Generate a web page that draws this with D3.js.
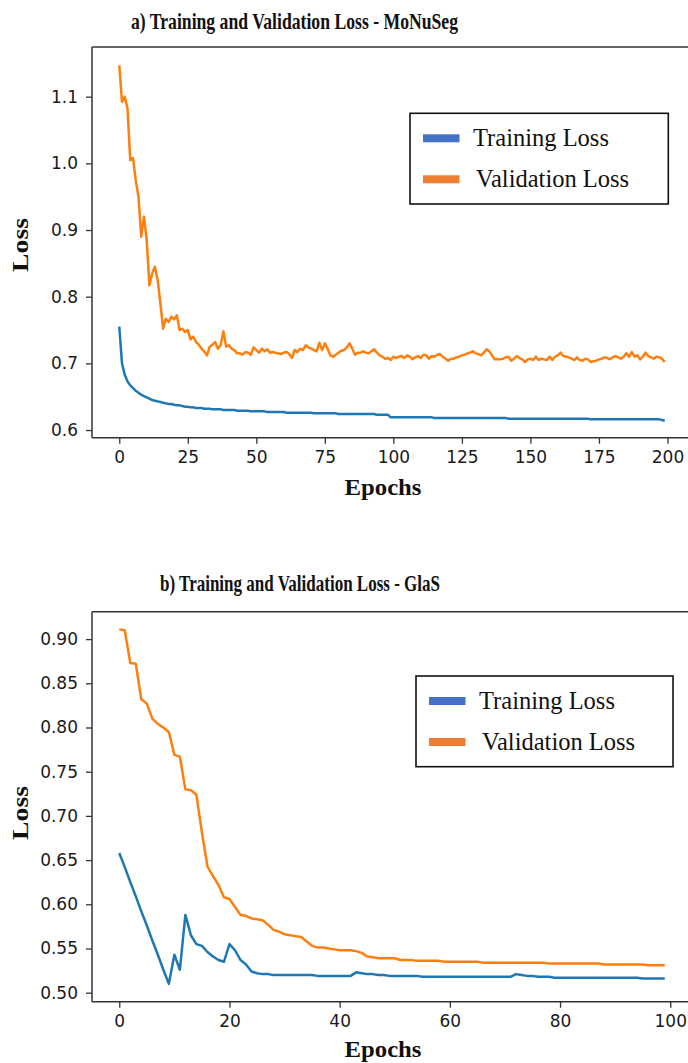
<!DOCTYPE html>
<html>
<head>
<meta charset="utf-8">
<script src="https://cdn.jsdelivr.net/npm/d3@7"></script>
<style>
  html, body { margin: 0; padding: 0; background: #fff; }
  svg { display: block; }
</style>
</head>
<body>
<svg id="chart" width="688" height="1063"></svg>
<script>
// ---------------- DATA ----------------
const seriesNames = ["Training Loss", "Validation Loss"];

// Panel a) MoNuSeg, 200 epochs
const monusegTitle = "a) Training and Validation Loss - MoNuSeg";
const monusegTrain = [
  0.755, 0.700, 0.683, 0.673, 0.667, 0.663, 0.659, 0.656, 0.653, 0.651,
  0.649, 0.647, 0.645, 0.644, 0.643, 0.642, 0.641, 0.640, 0.639, 0.639,
  0.638, 0.637, 0.637, 0.636, 0.635, 0.635, 0.634, 0.634, 0.633, 0.633,
  0.633, 0.632, 0.632, 0.632, 0.631, 0.631, 0.631, 0.631, 0.630, 0.630,
  0.630, 0.630, 0.630, 0.629, 0.629, 0.629, 0.629, 0.629, 0.628, 0.628,
  0.628, 0.628, 0.628, 0.628, 0.627, 0.627, 0.627, 0.627, 0.627, 0.627,
  0.627, 0.626, 0.626, 0.626, 0.626, 0.626, 0.626, 0.626, 0.626, 0.626,
  0.626, 0.625, 0.625, 0.625, 0.625, 0.625, 0.625, 0.625, 0.625, 0.625,
  0.624, 0.624, 0.624, 0.624, 0.624, 0.624, 0.624, 0.624, 0.624, 0.624,
  0.624, 0.624, 0.624, 0.624, 0.623, 0.623, 0.623, 0.623, 0.623, 0.619,
  0.619, 0.619, 0.619, 0.619, 0.619, 0.619, 0.619, 0.619, 0.619, 0.619,
  0.619, 0.619, 0.619, 0.619, 0.619, 0.618, 0.618, 0.618, 0.618, 0.618,
  0.618, 0.618, 0.618, 0.618, 0.618, 0.618, 0.618, 0.618, 0.618, 0.618,
  0.618, 0.618, 0.618, 0.618, 0.618, 0.618, 0.618, 0.618, 0.618, 0.618,
  0.618, 0.618, 0.617, 0.617, 0.617, 0.617, 0.617, 0.617, 0.617, 0.617,
  0.617, 0.617, 0.617, 0.617, 0.617, 0.617, 0.617, 0.617, 0.617, 0.617,
  0.617, 0.617, 0.617, 0.617, 0.617, 0.617, 0.617, 0.617, 0.617, 0.617,
  0.617, 0.617, 0.616, 0.616, 0.616, 0.616, 0.616, 0.616, 0.616, 0.616,
  0.616, 0.616, 0.616, 0.616, 0.616, 0.616, 0.616, 0.616, 0.616, 0.616,
  0.616, 0.616, 0.616, 0.616, 0.616, 0.616, 0.616, 0.616, 0.615, 0.614
];
const monusegVal = [
  1.147, 1.092, 1.100, 1.083, 1.005, 1.008, 0.975, 0.950, 0.890, 0.920,
  0.885, 0.817, 0.835, 0.845, 0.825, 0.790, 0.752, 0.767, 0.762, 0.770,
  0.766, 0.772, 0.750, 0.752, 0.747, 0.750, 0.736, 0.740, 0.732, 0.728,
  0.722, 0.718, 0.712, 0.725, 0.728, 0.732, 0.722, 0.728, 0.748, 0.725,
  0.727, 0.722, 0.720, 0.715, 0.715, 0.713, 0.717, 0.716, 0.713, 0.724,
  0.720, 0.716, 0.722, 0.718, 0.721, 0.716, 0.717, 0.716, 0.715, 0.714,
  0.716, 0.717, 0.714, 0.708, 0.720, 0.717, 0.722, 0.720, 0.727, 0.724,
  0.722, 0.720, 0.718, 0.731, 0.720, 0.730, 0.722, 0.712, 0.710, 0.713,
  0.716, 0.719, 0.720, 0.724, 0.730, 0.722, 0.713, 0.716, 0.716, 0.718,
  0.716, 0.715, 0.718, 0.721, 0.716, 0.712, 0.710, 0.707, 0.708, 0.705,
  0.710, 0.708, 0.710, 0.711, 0.708, 0.712, 0.710, 0.706, 0.709, 0.711,
  0.708, 0.713, 0.712, 0.707, 0.711, 0.710, 0.713, 0.714, 0.710, 0.707,
  0.704, 0.707, 0.707, 0.709, 0.710, 0.712, 0.713, 0.715, 0.716, 0.718,
  0.715, 0.714, 0.712, 0.716, 0.721, 0.718, 0.712, 0.706, 0.706, 0.706,
  0.707, 0.709, 0.710, 0.704, 0.707, 0.711, 0.708, 0.706, 0.702, 0.706,
  0.707, 0.705, 0.710, 0.705, 0.707, 0.706, 0.705, 0.710, 0.705, 0.710,
  0.712, 0.716, 0.711, 0.710, 0.709, 0.707, 0.705, 0.709, 0.705, 0.704,
  0.707, 0.706, 0.702, 0.703, 0.704, 0.706, 0.707, 0.709, 0.708, 0.706,
  0.709, 0.711, 0.709, 0.707, 0.710, 0.715, 0.710, 0.717, 0.710, 0.712,
  0.706, 0.710, 0.716, 0.711, 0.709, 0.707, 0.710, 0.709, 0.707, 0.702
];
const monusegXTicks = [0, 25, 50, 75, 100, 125, 150, 175, 200];
const monusegYTicks = [0.6, 0.7, 0.8, 0.9, 1.0, 1.1];

// Panel b) GlaS, 100 epochs
const glasTitle = "b) Training and Validation Loss - GlaS";
const glasTrain = [
  0.658, 0.642, 0.625, 0.609, 0.592, 0.576, 0.559, 0.543, 0.526, 0.510,
  0.543, 0.526, 0.588, 0.565, 0.555, 0.553, 0.546, 0.541, 0.537, 0.535,
  0.555, 0.548, 0.537, 0.532, 0.524, 0.522, 0.521, 0.521, 0.520, 0.520,
  0.520, 0.520, 0.520, 0.520, 0.520, 0.520, 0.519, 0.519, 0.519, 0.519,
  0.519, 0.519, 0.519, 0.523, 0.522, 0.521, 0.521, 0.520, 0.520, 0.519,
  0.519, 0.519, 0.519, 0.519, 0.519, 0.518, 0.518, 0.518, 0.518, 0.518,
  0.518, 0.518, 0.518, 0.518, 0.518, 0.518, 0.518, 0.518, 0.518, 0.518,
  0.518, 0.518, 0.521, 0.520, 0.519, 0.519, 0.518, 0.518, 0.518, 0.517,
  0.517, 0.517, 0.517, 0.517, 0.517, 0.517, 0.517, 0.517, 0.517, 0.517,
  0.517, 0.517, 0.517, 0.517, 0.517, 0.516, 0.516, 0.516, 0.516, 0.516
];
const glasVal = [
  0.911, 0.910, 0.873, 0.872, 0.832, 0.827, 0.810, 0.804, 0.800, 0.795,
  0.769, 0.767, 0.730, 0.729, 0.724, 0.681, 0.643, 0.632, 0.622, 0.608,
  0.606, 0.597, 0.588, 0.587, 0.584, 0.583, 0.582, 0.577, 0.571, 0.569,
  0.566, 0.565, 0.564, 0.563, 0.558, 0.553, 0.551, 0.551, 0.550, 0.549,
  0.548, 0.548, 0.548, 0.547, 0.545, 0.541, 0.540, 0.539, 0.539, 0.539,
  0.539, 0.537, 0.537, 0.537, 0.536, 0.536, 0.536, 0.536, 0.536, 0.535,
  0.535, 0.535, 0.535, 0.535, 0.535, 0.535, 0.534, 0.534, 0.534, 0.534,
  0.534, 0.534, 0.534, 0.534, 0.534, 0.534, 0.534, 0.534, 0.533, 0.533,
  0.533, 0.533, 0.533, 0.533, 0.533, 0.533, 0.533, 0.533, 0.532, 0.532,
  0.532, 0.532, 0.532, 0.532, 0.532, 0.532, 0.531, 0.531, 0.531, 0.531
];
const glasXTicks = [0, 20, 40, 60, 80, 100];
const glasYTicks = [0.50, 0.55, 0.60, 0.65, 0.70, 0.75, 0.80, 0.85, 0.90];

const xLabelText = "Epochs";
const yLabelText = "Loss";

// ---------------- STYLE ----------------
const lineColors = ["#1f77b4", "#ff7f0e"];
const legendColors = ["#4472c4", "#ed7d31"];
const axisColor = "#333";
const tickFont = "'DejaVu Sans', sans-serif";
const serifFont = "'Liberation Serif', 'Times New Roman', serif";

const svg = d3.select("#chart");

function drawPanel(p) {
  const x = d3.scaleLinear().domain(p.xDomain).range([p.left, p.right]);
  const y = d3.scaleLinear().domain(p.yDomain).range([p.bottom, p.top]);
  const g = svg.append("g");

  // series lines
  p.series.forEach((vals, i) => {
    const line = d3.line().x((d, k) => x(k)).y(d => y(d));
    g.append("path")
      .datum(vals)
      .attr("fill", "none")
      .attr("stroke", lineColors[i])
      .attr("stroke-width", 2.5)
      .attr("stroke-linejoin", "round")
      .attr("d", line);
  });

  // top spine (right spine is off-canvas)
  g.append("line").attr("x1", p.left).attr("x2", p.right).attr("y1", p.top).attr("y2", p.top)
    .attr("stroke", axisColor).attr("stroke-width", 1.5);

  const xAxis = d3.axisBottom(x).tickValues(p.xTicks).tickSize(6).tickPadding(7)
    .tickFormat(d3.format("d"));
  const gx = g.append("g").attr("transform", `translate(0,${p.bottom})`).call(xAxis);
  const yAxis = d3.axisLeft(y).tickValues(p.yTicks).tickSize(6).tickPadding(8)
    .tickFormat(d3.format(p.yFormat));
  const gy = g.append("g").attr("transform", `translate(${p.left},0)`).call(yAxis);

  [gx, gy].forEach(a => {
    a.select(".domain").attr("stroke", axisColor).attr("stroke-width", 1.5);
    a.selectAll(".tick line").attr("stroke", axisColor).attr("stroke-width", 1.3);
    a.selectAll(".tick text").attr("fill", "#1a1a1a")
      .style("font-family", tickFont).style("font-size", "17px");
  });
  gy.select(".domain").attr("d", `M0,${p.top}V${p.bottom}`);
  gx.select(".domain").attr("d", `M${p.left},0H${p.right}`);

  // title
  svg.append("text").attr("x", p.titleX).attr("y", p.titleY)
    .attr("textLength", p.titleLen).attr("lengthAdjust", "spacingAndGlyphs")
    .style("font-family", serifFont).style("font-weight", "bold").style("font-size", p.titleSize + "px")
    .attr("fill", "#111").text(p.title);

  // x label
  svg.append("text").attr("x", 383).attr("y", p.xLabelY).attr("text-anchor", "middle")
    .attr("textLength", 77).attr("lengthAdjust", "spacingAndGlyphs")
    .style("font-family", serifFont).style("font-weight", "bold").style("font-size", "23px")
    .attr("fill", "#111").text(xLabelText);

  // y label
  svg.append("text").attr("transform", `translate(28,${p.yLabelY}) rotate(-90)`)
    .attr("text-anchor", "middle")
    .attr("textLength", 54).attr("lengthAdjust", "spacingAndGlyphs")
    .style("font-family", serifFont).style("font-weight", "bold").style("font-size", "24px")
    .attr("fill", "#111").text(yLabelText);

  // legend
  const L = p.legend;
  const lg = svg.append("g").attr("transform", `translate(${L.x},${L.y})`);
  lg.append("rect").attr("x", 0).attr("y", 0).attr("width", L.w).attr("height", L.h)
    .attr("fill", "#fff").attr("stroke", "#111").attr("stroke-width", 1.6);
  seriesNames.forEach((name, i) => {
    const cy = 25 + i * 41;
    lg.append("rect").attr("x", 13).attr("y", cy - 4).attr("width", 36.5).attr("height", 8)
      .attr("fill", legendColors[i]);
    lg.append("text").attr("x", 63 + i * 3).attr("y", cy + 8)
      .style("font-family", serifFont).style("font-size", "24.5px")
      .attr("fill", "#111").text(name);
  });
}

drawPanel({
  series: [monusegTrain, monusegVal],
  left: 92, right: 692, top: 47, bottom: 437.7,
  xDomain: [-9.95, 208.95], yDomain: [0.5885, 1.1745],
  xTicks: monusegXTicks, yTicks: monusegYTicks, yFormat: ".1f",
  title: monusegTitle, titleX: 131, titleY: 29, titleLen: 327, titleSize: 24,
  xLabelY: 495, yLabelY: 245,
  legend: { x: 410, y: 113.3, w: 258.3, h: 90.7 }
});

drawPanel({
  series: [glasTrain, glasVal],
  left: 92, right: 692, top: 611.7, bottom: 1001.7,
  xDomain: [-4.95, 103.95], yDomain: [0.4898, 0.931],
  xTicks: glasXTicks, yTicks: glasYTicks, yFormat: ".2f",
  title: glasTitle, titleX: 160, titleY: 591, titleLen: 280, titleSize: 23,
  xLabelY: 1057, yLabelY: 813,
  legend: { x: 416, y: 676, w: 257, h: 90.7 }
});
</script>
</body>
</html>
